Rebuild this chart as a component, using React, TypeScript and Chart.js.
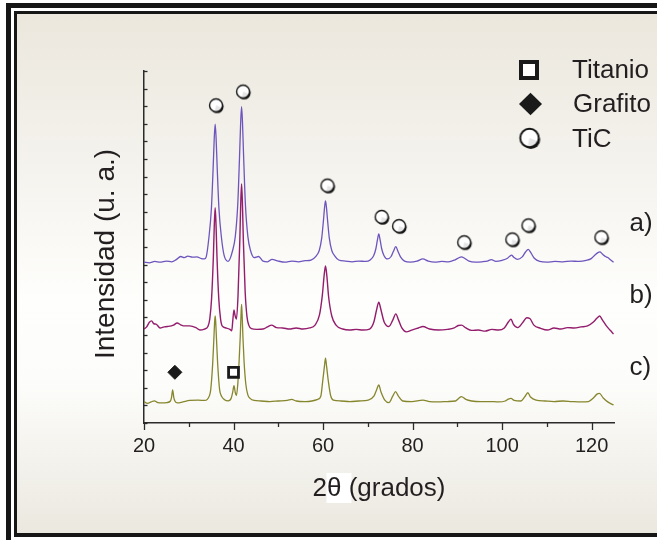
import { useEffect, useRef } from 'react';
import { Chart, registerables } from 'chart.js';

Chart.register(...registerables);

const FONT = '"Liberation Sans", Arial, Helvetica, sans-serif';
const INK = '#231f20';

// ---- text ----
const xTitle = '2θ (grados)';
const yTitle = 'Intensidad (u. a.)';
const xTickLabels = [20, 40, 60, 80, 100, 120];
const legendLabels = ['Titanio', 'Grafito', 'TiC'];
const sampleLabels = ['a)', 'b)', 'c)'];

// ---- series: [2θ (deg), intensity (offset, arbitrary units)] ----
const traceA: [number, number][] = [
  [20.0, 45.7], [21.2, 45.5], [22.4, 45.9], [23.6, 45.7], [25.0, 46.0], [26.2, 45.8], [27.2, 46.4],
  [28.2, 47.3], [29.0, 47.0], [29.8, 47.4], [30.8, 47.1], [31.8, 47.2], [32.8, 46.7], [33.5, 46.6],
  [33.9, 47.2], [34.5, 52.7], [35.05, 60.8], [35.45, 72.6], [35.7, 81.1], [35.9, 84.9], [36.1, 81.1],
  [36.35, 72.6], [36.75, 60.8], [37.3, 52.7], [37.9, 47.6], [38.8, 45.9],
  [39.8, 49.0], [40.4, 53.0], [40.95, 62.2], [41.35, 75.9], [41.6, 85.5], [41.8, 89.9], [42.0, 85.5],
  [42.25, 75.9], [42.65, 62.2], [43.2, 53.0], [43.8, 49.0], [44.6, 47.0], [45.6, 47.3], [46.6, 46.0],
  [47.6, 45.8], [48.6, 46.5], [50.0, 46.0], [51.5, 45.7], [53.0, 46.0], [54.5, 45.8], [56.0, 46.1],
  [57.3, 46.3], [58.5, 47.5], [59.15, 49.0], [59.7, 52.5], [60.1, 57.7], [60.35, 61.4], [60.55, 63.1],
  [60.75, 61.4], [61.0, 57.7], [61.4, 52.5], [61.95, 49.0], [62.6, 47.5], [63.5, 46.3], [65.0, 46.0],
  [66.5, 45.8], [68.0, 46.0], [69.5, 45.9], [70.6, 46.4], [71.3, 47.5], [71.8, 49.5], [72.15, 52.0],
  [72.45, 53.7], [72.75, 52.0], [73.1, 49.5], [73.6, 47.6], [74.4, 46.6], [75.2, 47.3], [75.7, 48.7],
  [76.25, 50.1], [76.75, 48.7], [77.3, 47.2], [78.2, 46.0], [79.5, 45.7], [81.0, 46.0], [82.3, 46.6],
  [83.5, 46.0], [85.0, 45.7], [86.5, 45.9], [88.0, 45.8], [89.4, 46.3], [90.3, 46.9], [90.9, 47.2],
  [91.6, 46.8], [92.6, 46.0], [94.0, 45.7], [95.5, 45.8], [96.7, 46.0], [97.6, 46.4], [98.6, 45.9],
  [100.0, 46.2], [101.2, 46.8], [101.7, 47.4], [102.1, 47.7], [102.6, 47.1], [103.4, 46.5], [104.5, 47.2],
  [105.2, 48.5], [105.85, 49.3], [106.45, 48.3], [107.2, 46.8], [108.4, 45.9], [110.0, 45.7], [111.8, 45.9],
  [113.6, 45.8], [115.4, 46.0], [117.2, 45.9], [118.8, 46.2], [119.9, 46.7], [120.8, 47.8], [121.4, 48.4],
  [121.85, 48.6], [122.4, 48.0], [123.1, 47.3], [123.6, 47.0], [124.2, 46.4], [124.9, 45.7],
];

const traceB: [number, number][] = [
  [20.0, 26.7], [20.6, 27.3], [21.2, 28.6], [21.7, 29.0], [22.2, 28.2], [22.7, 28.1], [23.6, 27.0],
  [24.5, 27.3], [25.2, 27.4], [26.6, 27.8], [27.4, 28.4], [28.2, 27.9], [28.8, 27.6], [30.2, 27.6],
  [31.6, 27.1], [32.5, 26.4], [33.5, 26.7], [34.3, 27.5], [34.7, 29.6], [35.1, 35.4], [35.5, 47.4],
  [35.7, 56.0], [35.9, 61.2], [36.1, 56.0], [36.3, 47.4], [36.7, 35.4], [37.1, 29.6], [37.5, 27.5],
  [38.3, 27.0], [39.2, 26.6], [39.6, 26.2], [39.85, 29.3], [40.1, 32.1], [40.35, 30.5], [40.65, 29.5],
  [41.0, 36.0], [41.4, 51.6], [41.6, 61.9], [41.8, 67.9], [42.0, 61.9], [42.2, 51.6], [42.6, 37.3],
  [43.0, 30.3], [43.4, 27.8], [44.0, 26.8], [45.2, 26.6], [46.6, 26.7], [47.6, 27.3], [48.5, 27.8],
  [49.6, 27.1], [51.0, 27.0], [52.5, 26.7], [54.0, 27.0], [55.5, 26.7], [57.0, 27.0], [58.2, 27.8],
  [59.2, 30.7], [59.85, 36.4], [60.25, 42.0], [60.55, 44.6], [60.85, 41.8], [61.25, 35.8], [61.95, 30.4],
  [62.9, 27.8], [64.4, 26.7], [65.9, 26.4], [67.4, 26.6], [68.9, 26.4], [70.4, 26.7], [71.35, 28.7],
  [71.95, 32.1], [72.45, 34.3], [72.95, 32.1], [73.65, 28.7], [74.7, 27.4], [75.6, 29.3], [76.25, 31.0],
  [76.85, 29.3], [77.6, 27.0], [78.6, 25.9], [79.8, 26.4], [81.3, 27.0], [82.3, 27.4], [83.8, 26.7],
  [85.8, 26.4], [87.8, 26.6], [89.3, 27.0], [90.2, 27.7], [90.95, 27.8], [91.9, 27.0], [93.2, 26.3],
  [94.7, 26.4], [96.2, 26.1], [97.7, 26.6], [99.2, 26.4], [100.5, 27.0], [101.4, 28.7], [102.0, 29.5],
  [102.5, 28.1], [103.5, 27.1], [104.7, 28.7], [105.5, 29.9], [106.2, 29.7], [107.1, 27.8], [108.6, 26.9],
  [110.1, 26.4], [111.6, 27.0], [113.1, 26.7], [114.6, 27.1], [116.1, 27.0], [117.6, 27.3], [119.1, 27.6],
  [120.4, 28.7], [121.2, 29.8], [121.8, 30.4], [122.4, 29.3], [123.3, 27.6], [124.1, 26.4], [124.9, 25.3],
];

const traceC: [number, number][] = [
  [20.0, 6.05], [20.8, 5.6], [21.6, 6.0], [22.3, 6.3], [23.1, 5.8], [24.1, 5.7], [25.1, 5.8], [25.9, 6.25],
  [26.15, 7.3], [26.4, 9.4], [26.65, 7.3], [26.9, 6.25], [27.5, 5.7], [28.7, 6.0], [30.2, 6.4], [32.1, 6.5],
  [33.6, 6.4], [34.6, 7.7], [34.9, 9.4], [35.35, 17.0], [35.6, 23.7], [35.78, 28.7], [35.9, 30.4],
  [36.02, 28.7], [36.2, 23.7], [36.45, 17.0], [36.9, 9.4], [37.3, 7.7], [38.0, 6.6], [38.8, 6.3],
  [39.5, 7.1], [39.85, 9.0], [40.1, 10.6], [40.4, 8.6], [40.65, 7.8], [40.95, 11.0], [41.25, 17.6],
  [41.5, 24.5], [41.68, 30.8], [41.8, 33.7], [41.92, 30.8], [42.1, 24.5], [42.35, 17.6], [42.75, 11.0],
  [43.2, 8.0], [43.7, 7.0], [44.6, 6.4], [46.1, 6.25], [48.1, 6.1], [50.0, 6.25], [52.0, 6.4], [53.0, 6.7],
  [54.0, 6.25], [56.0, 6.1], [57.5, 6.25], [58.8, 6.7], [59.5, 7.6], [59.95, 12.2], [60.3, 16.0],
  [60.55, 18.4], [60.8, 16.0], [61.15, 12.2], [61.7, 7.8], [62.3, 6.5], [64.0, 6.25], [66.0, 6.1],
  [68.0, 6.25], [70.1, 6.5], [71.4, 7.7], [71.95, 9.4], [72.45, 10.8], [72.95, 8.8], [73.8, 6.5],
  [74.7, 5.8], [75.6, 7.7], [76.2, 8.9], [76.8, 7.7], [77.8, 6.25], [79.8, 6.1], [82.3, 6.5], [83.8, 6.1],
  [85.8, 6.0], [87.8, 6.1], [89.6, 6.25], [90.4, 7.1], [90.9, 7.5], [91.9, 6.7], [93.2, 6.25], [95.2, 6.05],
  [97.2, 6.1], [99.2, 6.0], [100.7, 6.25], [101.4, 6.8], [102.0, 7.0], [102.7, 6.4], [104.2, 6.25],
  [105.05, 7.4], [105.75, 8.6], [106.35, 7.4], [107.6, 6.5], [109.6, 6.25], [111.6, 6.1], [113.6, 6.25],
  [115.6, 6.1], [117.6, 6.0], [119.3, 6.1], [120.4, 7.1], [121.2, 8.2], [121.75, 8.4], [122.6, 7.1],
  [123.6, 6.0], [124.9, 5.1],
];

// ---- phase markers ----
const ticMarkers: [number, number][] = [
  [36.2, 90.1], [42.25, 94.0], [61.1, 67.3], [73.2, 58.4], [77.1, 55.8],
  [91.65, 51.2], [102.4, 52.0], [106.0, 56.0], [122.3, 52.6],
];
const graphiteMarkers: [number, number][] = [[26.9, 14.4]];
const titaniumMarkers: [number, number][] = [[40.0, 14.4]];

const toPts = (arr: [number, number][]) => arr.map(([x, y]) => ({ x, y }));

function makeRingIcon(r: number, ring: number, shadow: number): HTMLCanvasElement {
  const pad = 3;
  const size = Math.ceil(2 * r + pad * 2);
  const c = document.createElement('canvas');
  c.width = size;
  c.height = size;
  const g = c.getContext('2d') as CanvasRenderingContext2D;
  const cx = size / 2 - 0.5;
  const cy = size / 2 - 0.5;
  // shadow crescent (bottom-right)
  g.fillStyle = '#151515';
  g.beginPath();
  g.arc(cx + shadow * 0.8, cy + shadow, r - ring / 2, 0, Math.PI * 2);
  g.fill();
  // white body
  g.fillStyle = '#ffffff';
  g.beginPath();
  g.arc(cx, cy, r - ring / 2, 0, Math.PI * 2);
  g.fill();
  // subtle shading on the lower right of the body
  g.fillStyle = 'rgba(0,0,0,0.10)';
  g.beginPath();
  g.arc(cx + 0.6, cy + 0.6, r - ring * 1.2, 0.1 * Math.PI, 0.6 * Math.PI);
  g.lineTo(cx, cy);
  g.closePath();
  g.fill();
  // ring
  g.strokeStyle = '#151515';
  g.lineWidth = ring;
  g.beginPath();
  g.arc(cx, cy, r - ring / 2, 0, Math.PI * 2);
  g.stroke();
  return c;
}

export default function App() {
  const ref = useRef<HTMLCanvasElement | null>(null);

  useEffect(() => {
    const canvas = ref.current;
    if (!canvas) return;
    const ringSmall = makeRingIcon(7.2, 1.4, 1.3);
    const ringLegend = makeRingIcon(10.2, 1.9, 1.8);

    const decor = {
      id: 'decor',
      beforeDraw(chart: any) {
        const { ctx, width, height } = chart;
        ctx.save();
        ctx.fillStyle = '#ffffff';
        ctx.fillRect(0, 0, width, height);
        ctx.fillStyle = '#161616';
        ctx.fillRect(6, 3, width - 6, 5);
        ctx.fillRect(6, 3, 5, height - 3);
        ctx.fillRect(14, 11, width - 14, 3);
        ctx.fillRect(14, 11, 3, 526);
        ctx.fillRect(14, 533, width - 14, 4);
        const grad = ctx.createLinearGradient(0, 14, 0, 533);
        grad.addColorStop(0, '#ebe7dd');
        grad.addColorStop(0.3, '#f5f3ee');
        grad.addColorStop(0.55, '#fefefc');
        grad.addColorStop(0.72, '#fcfcfa');
        grad.addColorStop(1, '#ebe8df');
        ctx.fillStyle = grad;
        ctx.fillRect(17, 14, width - 17, 519);
        // white patch behind θ in the x title
        const xs = chart.scales.x;
        ctx.font = `26px ${FONT}`;
        const full = ctx.measureText(xTitle).width;
        const start = (xs.left + xs.right) / 2 - full / 2;
        const w2 = ctx.measureText(xTitle.slice(0, 1)).width;
        ctx.fillStyle = '#ffffff';
        ctx.fillRect(start + w2 - 0.5, 473, 25, 30);
        ctx.restore();
      },
      afterDraw(chart: any) {
        const { ctx } = chart;
        const xs = chart.scales.x;
        const ys = chart.scales.y;
        ctx.save();
        ctx.strokeStyle = '#2b2b2b';
        ctx.lineWidth = 1.3;
        // x tick marks (outward)
        for (const t of xs.ticks) {
          const px = Math.round(xs.getPixelForValue(t.value)) + 0.5;
          const len = xTickLabels.includes(t.value) ? 7 : 4;
          ctx.beginPath();
          ctx.moveTo(px, xs.top);
          ctx.lineTo(px, xs.top + len);
          ctx.stroke();
        }
        // y tick marks (inward)
        for (const t of ys.ticks) {
          const py = Math.round(ys.getPixelForValue(t.value)) + 0.5;
          ctx.beginPath();
          ctx.moveTo(ys.right, py);
          ctx.lineTo(ys.right + 3.5, py);
          ctx.stroke();
        }
        // y axis title
        ctx.fillStyle = INK;
        ctx.font = `28px ${FONT}`;
        ctx.textAlign = 'center';
        ctx.textBaseline = 'middle';
        ctx.save();
        ctx.translate(106, (ys.top + ys.bottom) / 2 + 7);
        ctx.rotate(-Math.PI / 2);
        ctx.fillText(yTitle, 0, 0);
        ctx.restore();
        // legend
        ctx.fillStyle = '#1a1a1a';
        ctx.fillRect(519, 60, 20, 20);
        ctx.fillStyle = '#ffffff';
        ctx.fillRect(523, 64, 12, 12);
        ctx.fillStyle = '#1a1a1a';
        ctx.beginPath();
        ctx.moveTo(519, 104);
        ctx.lineTo(530.5, 92.7);
        ctx.lineTo(542, 104);
        ctx.lineTo(530.5, 115.3);
        ctx.closePath();
        ctx.fill();
        ctx.drawImage(ringLegend, 530 - ringLegend.width / 2, 138.5 - ringLegend.height / 2);
        ctx.fillStyle = INK;
        ctx.font = `26px ${FONT}`;
        ctx.textBaseline = 'middle';
        ctx.textAlign = 'left';
        const legendY = [71, 105, 139.5];
        const legendX = [572, 573, 572];
        legendLabels.forEach((s, i) => ctx.fillText(s, legendX[i], legendY[i]));
        // sample labels
        const sampleY = [224, 296, 367.5];
        sampleLabels.forEach((s, i) => ctx.fillText(s, 629.5, sampleY[i]));
        ctx.restore();
      },
    };

    const chart = new Chart(canvas, {
      type: 'line',
      data: {
        datasets: [
          {
            label: 'a', data: toPts(traceA), borderColor: '#6d55bd', borderWidth: 1.3,
            pointRadius: 0, cubicInterpolationMode: 'monotone', order: 3,
          },
          {
            label: 'b', data: toPts(traceB), borderColor: '#931c6c', borderWidth: 1.4,
            pointRadius: 0, cubicInterpolationMode: 'monotone', order: 2,
          },
          {
            label: 'c', data: toPts(traceC), borderColor: '#86862e', borderWidth: 1.3,
            pointRadius: 0, cubicInterpolationMode: 'monotone', order: 1,
          },
          {
            label: 'TiC', data: toPts(ticMarkers), showLine: false, pointStyle: ringSmall as any,
            pointRadius: 7, order: 0,
          },
          {
            label: 'Grafito', data: toPts(graphiteMarkers), showLine: false, pointStyle: 'rectRot',
            pointRadius: 7, backgroundColor: '#1a1a1a', borderColor: '#1a1a1a', borderWidth: 1, order: 0,
          },
          {
            label: 'Titanio', data: toPts(titaniumMarkers), showLine: false, pointStyle: 'rect',
            pointRadius: 7, backgroundColor: '#ffffff', borderColor: '#1a1a1a', borderWidth: 2.8, order: 0,
          },
        ] as any,
      },
      options: {
        responsive: false,
        maintainAspectRatio: false,
        devicePixelRatio: 1,
        animation: false,
        events: [],
        layout: { padding: { left: 84, right: 43, top: 71, bottom: 27 }, autoPadding: false },
        plugins: { legend: { display: false }, tooltip: { enabled: false }, title: { display: false } },
        scales: {
          x: {
            type: 'linear',
            min: 20,
            max: 125,
            ticks: {
              stepSize: 10,
              includeBounds: false,
              autoSkip: false,
              maxRotation: 0,
              padding: 11,
              color: INK,
              font: { family: FONT, size: 20 },
              callback: (v: any) => (xTickLabels.includes(Number(v)) ? String(v) : ''),
            },
            grid: { display: false, drawTicks: false },
            border: { display: true, color: '#2b2b2b', width: 1.5 },
            title: {
              display: true, text: xTitle, color: INK,
              font: { family: FONT, size: 26 }, padding: { top: 0, bottom: 9 },
            },
            afterFit: (s: any) => { s.height = 90; },
          },
          y: {
            type: 'linear',
            min: 0,
            max: 100,
            ticks: { stepSize: 5, display: false },
            grid: { display: false, drawTicks: false },
            border: { display: true, color: '#2b2b2b', width: 1.5 },
            title: { display: false, text: yTitle },
            afterFit: (s: any) => { s.width = 60; },
          },
        },
      } as any,
      plugins: [decor],
    });
    return () => chart.destroy();
  }, []);

  return (
    <div style={{ position: 'absolute', left: 0, top: 0, width: 657, height: 540 }}>
      <canvas ref={ref} width={657} height={540} style={{ display: 'block', width: 657, height: 540 }} />
    </div>
  );
}
